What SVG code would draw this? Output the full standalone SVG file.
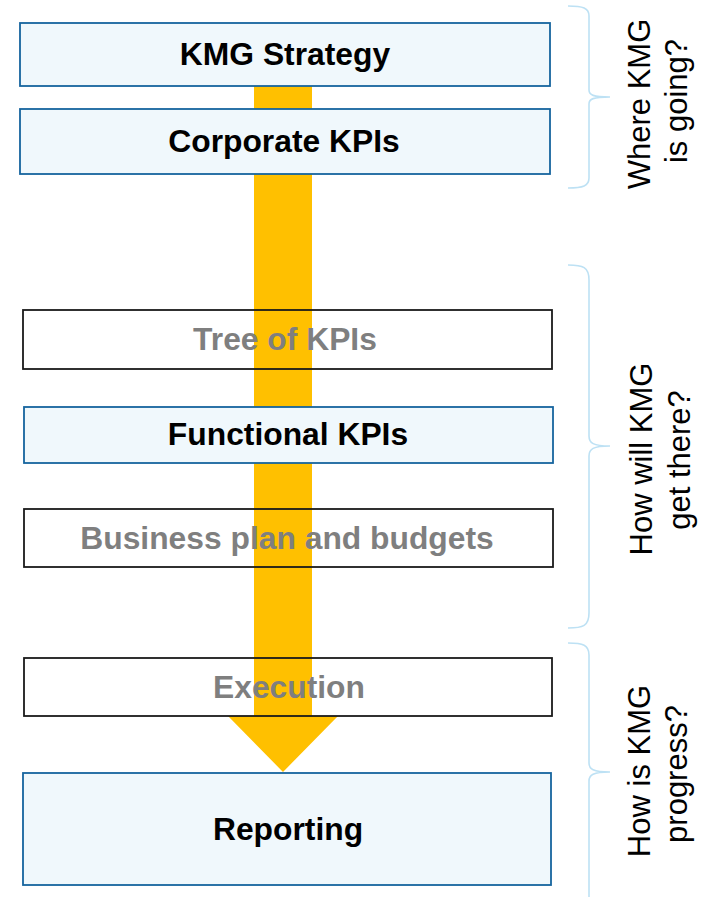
<svg xmlns="http://www.w3.org/2000/svg" width="709" height="897" viewBox="0 0 709 897">
  <style>
    .box-blue { fill: #F0F8FC; stroke: #16649E; stroke-width: 1.8; }
    .box-open { fill: none; stroke: #1A1A1A; stroke-width: 1.8; }
    .label { font-family: "Liberation Sans", Arial, sans-serif; font-size: 31.8px; font-weight: bold; text-anchor: middle; }
    .dark { fill: #000000; }
    .muted { fill: #7F7F7F; }
    .brace { fill: none; stroke: #BDE1F4; stroke-width: 1.6; }
    .side { font-family: "Liberation Sans", Arial, sans-serif; font-size: 31px; fill: #000000; text-anchor: middle; }
  </style>

  <!-- flow arrow running behind the boxes -->
  <g id="connectors">
    <polygon points="254,60 312,60 312,716 338,716 283,772 228,716 254,716" fill="#FFC000"/>
  </g>

  <!-- process steps -->
  <g id="kmg-strategy">
    <rect class="box-blue" x="20" y="23" width="530" height="63"/>
    <text class="label dark" x="285" y="65">KMG Strategy</text>
  </g>
  <g id="corporate-kpis">
    <rect class="box-blue" x="20" y="109" width="530" height="65"/>
    <text class="label dark" x="284" y="152">Corporate KPIs</text>
  </g>
  <g id="tree-of-kpis">
    <rect class="box-open" x="23" y="310" width="529" height="59"/>
    <text class="label muted" x="285" y="350">Tree of KPIs</text>
  </g>
  <g id="functional-kpis">
    <rect class="box-blue" x="24" y="407" width="529" height="56"/>
    <text class="label dark" x="288" y="445">Functional KPIs</text>
  </g>
  <g id="business-plan">
    <rect class="box-open" x="24" y="509" width="529" height="58"/>
    <text class="label muted" x="287" y="549">Business plan and budgets</text>
  </g>
  <g id="execution">
    <rect class="box-open" x="24" y="658" width="528" height="58"/>
    <text class="label muted" x="289" y="698">Execution</text>
  </g>
  <g id="reporting">
    <rect class="box-blue" x="23" y="773" width="528" height="112"/>
    <text class="label dark" x="288" y="840">Reporting</text>
  </g>

  <!-- grouping braces -->
  <g id="brace-going">
    <path class="brace" d="M568,6 C583,6 589,8 589,16 L589,90 C589,95 593,97 610,97 C593,97 589,99 589,104 L589,178 C589,186 583,188 568,188"/>
    <text class="side" transform="translate(650,104) rotate(-90)">Where KMG</text>
    <text class="side" transform="translate(687,101) rotate(-90)">is going?</text>
  </g>
  <g id="brace-there">
    <path class="brace" d="M568,265 C583,265 589,267 589,280 L589,436 C589,443 593,446 610,446 C593,446 589,449 589,456 L589,613 C589,626 583,628 568,628"/>
    <text class="side" transform="translate(652,459) rotate(-90)">How will KMG</text>
    <text class="side" transform="translate(690,460) rotate(-90)">get there?</text>
  </g>
  <g id="brace-progress">
    <path class="brace" d="M568,643 C583,643 589,645 589,655 L589,763 C589,769 593,772 610,772 C593,772 589,775 589,781 L589,897"/>
    <text class="side" transform="translate(650,771) rotate(-90)">How is KMG</text>
    <text class="side" transform="translate(687,774) rotate(-90)">progress?</text>
  </g>
</svg>
